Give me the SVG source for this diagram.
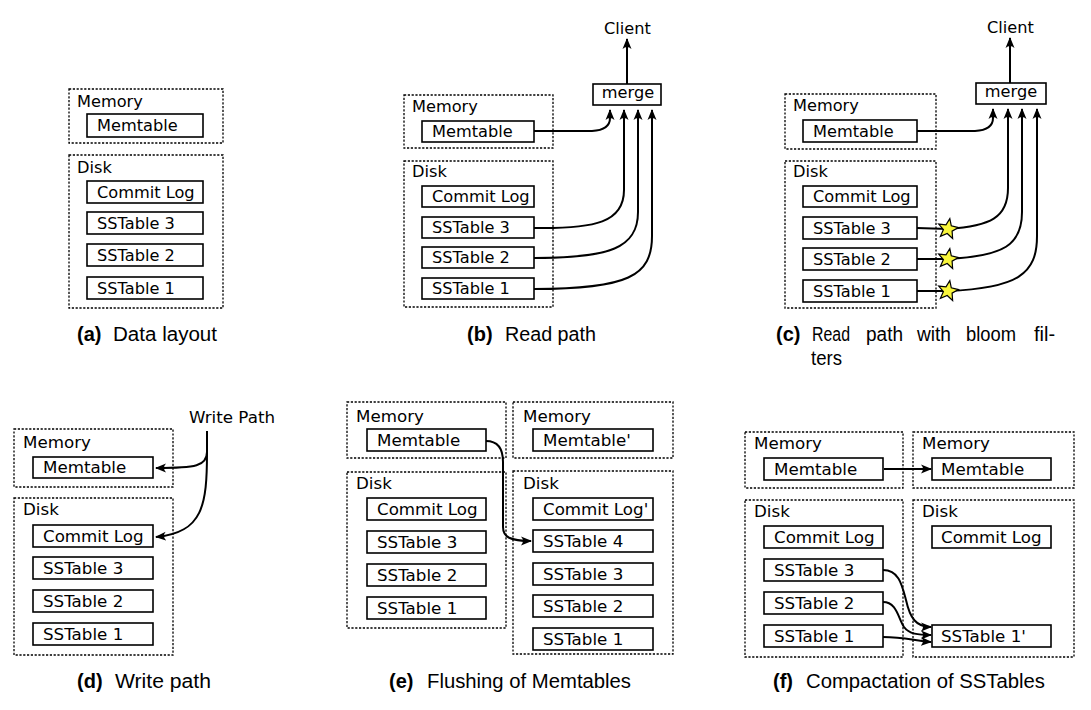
<svg xmlns="http://www.w3.org/2000/svg" width="1091" height="710" viewBox="0 0 1091 710">
<style>
.bg{fill:#ffffff}
.grp{fill:none;stroke:#000;stroke-width:1.3;stroke-dasharray:2.2 1.6}
.box{fill:#fff;stroke:#000;stroke-width:1.6}
.t{font-family:"DejaVu Sans",sans-serif;font-size:16.2px;fill:#000}
.tb{font-family:"DejaVu Sans",sans-serif;font-size:16.7px;fill:#000}
.cap{font-family:"Liberation Sans",Arial,sans-serif;font-size:20px;fill:#000}
.capb{font-family:"Liberation Sans",Arial,sans-serif;font-size:20px;font-weight:bold;fill:#000}
.ln{fill:none;stroke:#000;stroke-width:2;marker-end:url(#ah)}
.ln0{fill:none;stroke:#000;stroke-width:2}
.star{fill:#f8f53c;stroke:#000;stroke-width:1.2;stroke-linejoin:miter}
</style>
<defs>
<marker id="ah" markerWidth="13" markerHeight="10" refX="10" refY="5" orient="auto" markerUnits="userSpaceOnUse">
<path d="M0,0.5 L11,5 L0,9.5 Q4,5 0,0.5Z" fill="#000"/>
</marker>
<polygon id="starshape" points="0,-10.5 2.7,-3.7 10,-3.2 4.4,1.4 6.2,8.5 0,4.6 -6.2,8.5 -4.4,1.4 -10,-3.2 -2.7,-3.7" transform="rotate(10)"/>
</defs>
<rect class="bg" x="0" y="0" width="1091" height="710"/>

<!-- Panel a -->
<g id="a-memory"><rect class="grp" x="69" y="89" width="154" height="54"/><text class="t" x="77" y="107">Memory</text></g>
<g id="a-memtable"><rect class="box" x="87" y="114" width="116" height="23"/><text class="t" x="97" y="131">Memtable</text></g>
<g id="a-disk"><rect class="grp" x="69" y="155" width="154" height="153"/><text class="t" x="77" y="173">Disk</text></g>
<g id="a-commitlog"><rect class="box" x="87" y="181" width="116" height="22"/><text class="t" x="97" y="198">Commit Log</text></g>
<g id="a-sst3"><rect class="box" x="87" y="212" width="116" height="22"/><text class="t" x="97" y="229">SSTable 3</text></g>
<g id="a-sst2"><rect class="box" x="87" y="244" width="116" height="22"/><text class="t" x="97" y="261">SSTable 2</text></g>
<g id="a-sst1"><rect class="box" x="87" y="277" width="116" height="22"/><text class="t" x="97" y="294">SSTable 1</text></g>
<g id="cap-a"><text class="capb" x="77" y="341">(a)</text><text class="cap" x="113" y="341" textLength="104" lengthAdjust="spacingAndGlyphs">Data layout</text></g>

<!-- Panel b -->
<g id="b-memory"><rect class="grp" x="404" y="95" width="149" height="53"/><text class="t" x="412" y="112">Memory</text></g>
<g id="b-memtable"><rect class="box" x="422" y="121" width="112" height="21"/><text class="t" x="432" y="137">Memtable</text></g>
<g id="b-disk"><rect class="grp" x="404" y="161" width="149" height="146"/><text class="t" x="412" y="177">Disk</text></g>
<g id="b-commitlog"><rect class="box" x="422" y="186" width="112" height="21"/><text class="t" x="432" y="202">Commit Log</text></g>
<g id="b-sst3"><rect class="box" x="422" y="217" width="112" height="21"/><text class="t" x="432" y="233">SSTable 3</text></g>
<g id="b-sst2"><rect class="box" x="422" y="247" width="112" height="21"/><text class="t" x="432" y="263">SSTable 2</text></g>
<g id="b-sst1"><rect class="box" x="422" y="278" width="112" height="21"/><text class="t" x="432" y="294">SSTable 1</text></g>
<g id="b-merge"><rect class="box" x="593" y="84" width="68" height="21"/><text class="t" x="628" y="98" text-anchor="middle">merge</text></g>
<g id="b-client"><text class="t" x="604" y="34">Client</text></g>
<g id="cap-b"><text class="capb" x="467" y="341">(b)</text><text class="cap" x="505" y="341" textLength="91" lengthAdjust="spacingAndGlyphs">Read path</text></g>

<!-- Panel c -->
<g id="c-memory"><rect class="grp" x="785" y="94" width="151" height="55"/><text class="t" x="793" y="111">Memory</text></g>
<g id="c-memtable"><rect class="box" x="803" y="120" width="114" height="22"/><text class="t" x="813" y="137">Memtable</text></g>
<g id="c-disk"><rect class="grp" x="785" y="161" width="151" height="147"/><text class="t" x="793" y="177">Disk</text></g>
<g id="c-commitlog"><rect class="box" x="803" y="186" width="114" height="21"/><text class="t" x="813" y="202">Commit Log</text></g>
<g id="c-sst3"><rect class="box" x="803" y="217" width="114" height="22"/><text class="t" x="813" y="234">SSTable 3</text></g>
<g id="c-sst2"><rect class="box" x="803" y="248" width="114" height="22"/><text class="t" x="813" y="265">SSTable 2</text></g>
<g id="c-sst1"><rect class="box" x="803" y="280" width="114" height="22"/><text class="t" x="813" y="297">SSTable 1</text></g>
<g id="c-merge"><rect class="box" x="976" y="83" width="70" height="21"/><text class="t" x="1011" y="97" text-anchor="middle">merge</text></g>
<g id="c-client"><text class="t" x="987" y="33">Client</text></g>
<g id="cap-c"><text class="capb" x="776" y="341">(c)</text>
<text class="cap" x="812" y="341" textLength="38" lengthAdjust="spacingAndGlyphs">Read</text>
<text class="cap" x="866" y="341" textLength="37" lengthAdjust="spacingAndGlyphs">path</text>
<text class="cap" x="917" y="341" textLength="34" lengthAdjust="spacingAndGlyphs">with</text>
<text class="cap" x="966" y="341" textLength="50" lengthAdjust="spacingAndGlyphs">bloom</text>
<text class="cap" x="1034" y="341">fil-</text>
<text class="cap" x="811" y="365" textLength="31" lengthAdjust="spacingAndGlyphs">ters</text></g>

<!-- Panel d -->
<g id="d-memory"><rect class="grp" x="14" y="429" width="159" height="58"/><text class="tb" x="23" y="448">Memory</text></g>
<g id="d-memtable"><rect class="box" x="33" y="457" width="120" height="21"/><text class="tb" x="43" y="473">Memtable</text></g>
<g id="d-disk"><rect class="grp" x="14" y="498" width="159" height="157"/><text class="tb" x="23" y="515">Disk</text></g>
<g id="d-commitlog"><rect class="box" x="33" y="525" width="120" height="22"/><text class="tb" x="43" y="542">Commit Log</text></g>
<g id="d-sst3"><rect class="box" x="33" y="557" width="120" height="22"/><text class="tb" x="43" y="574">SSTable 3</text></g>
<g id="d-sst2"><rect class="box" x="33" y="590" width="120" height="22"/><text class="tb" x="43" y="607">SSTable 2</text></g>
<g id="d-sst1"><rect class="box" x="33" y="623" width="120" height="22"/><text class="tb" x="43" y="640">SSTable 1</text></g>
<g id="d-writepath"><text class="tb" x="189" y="423">Write Path</text></g>
<g id="cap-d"><text class="capb" x="77" y="688">(d)</text><text class="cap" x="115" y="688" textLength="96" lengthAdjust="spacingAndGlyphs">Write path</text></g>

<!-- Panel e -->
<g id="e-memory-l"><rect class="grp" x="347" y="402" width="159" height="56"/><text class="tb" x="356" y="422">Memory</text></g>
<g id="e-memtable"><rect class="box" x="367" y="429" width="119" height="22"/><text class="tb" x="377" y="446">Memtable</text></g>
<g id="e-disk-l"><rect class="grp" x="347" y="472" width="159" height="156"/><text class="tb" x="356" y="489">Disk</text></g>
<g id="e-commitlog"><rect class="box" x="367" y="498" width="119" height="22"/><text class="tb" x="377" y="515">Commit Log</text></g>
<g id="e-sst3"><rect class="box" x="367" y="531" width="119" height="22"/><text class="tb" x="377" y="548">SSTable 3</text></g>
<g id="e-sst2"><rect class="box" x="367" y="564" width="119" height="22"/><text class="tb" x="377" y="581">SSTable 2</text></g>
<g id="e-sst1"><rect class="box" x="367" y="597" width="119" height="22"/><text class="tb" x="377" y="614">SSTable 1</text></g>
<g id="e-memory-r"><rect class="grp" x="513" y="402" width="160" height="56"/><text class="tb" x="523" y="422">Memory</text></g>
<g id="e-memtable2"><rect class="box" x="533" y="429" width="120" height="22"/><text class="tb" x="543" y="446">Memtable'</text></g>
<g id="e-disk-r"><rect class="grp" x="513" y="471" width="160" height="183"/><text class="tb" x="523" y="489">Disk</text></g>
<g id="e-commitlog2"><rect class="box" x="533" y="498" width="120" height="22"/><text class="tb" x="543" y="515">Commit Log'</text></g>
<g id="e-sst4"><rect class="box" x="533" y="530" width="120" height="22"/><text class="tb" x="543" y="547">SSTable 4</text></g>
<g id="e-sst3r"><rect class="box" x="533" y="563" width="120" height="22"/><text class="tb" x="543" y="580">SSTable 3</text></g>
<g id="e-sst2r"><rect class="box" x="533" y="595" width="120" height="22"/><text class="tb" x="543" y="612">SSTable 2</text></g>
<g id="e-sst1r"><rect class="box" x="533" y="628" width="120" height="22"/><text class="tb" x="543" y="645">SSTable 1</text></g>
<g id="cap-e"><text class="capb" x="389" y="688">(e)</text><text class="cap" x="427" y="688" textLength="204" lengthAdjust="spacingAndGlyphs">Flushing of Memtables</text></g>

<!-- Panel f -->
<g id="f-memory-l"><rect class="grp" x="745" y="432" width="158" height="56"/><text class="tb" x="754" y="449">Memory</text></g>
<g id="f-memtable"><rect class="box" x="764" y="458" width="119" height="22"/><text class="tb" x="774" y="475">Memtable</text></g>
<g id="f-memory-r"><rect class="grp" x="913" y="432" width="161" height="56"/><text class="tb" x="922" y="449">Memory</text></g>
<g id="f-memtable2"><rect class="box" x="932" y="458" width="119" height="22"/><text class="tb" x="941" y="475">Memtable</text></g>
<g id="f-disk-l"><rect class="grp" x="745" y="500" width="158" height="157"/><text class="tb" x="754" y="517">Disk</text></g>
<g id="f-commitlog"><rect class="box" x="764" y="526" width="119" height="22"/><text class="tb" x="774" y="543">Commit Log</text></g>
<g id="f-sst3"><rect class="box" x="764" y="559" width="119" height="22"/><text class="tb" x="774" y="576">SSTable 3</text></g>
<g id="f-sst2"><rect class="box" x="764" y="592" width="119" height="22"/><text class="tb" x="774" y="609">SSTable 2</text></g>
<g id="f-sst1"><rect class="box" x="764" y="625" width="119" height="22"/><text class="tb" x="774" y="642">SSTable 1</text></g>
<g id="f-disk-r"><rect class="grp" x="913" y="500" width="161" height="157"/><text class="tb" x="922" y="517">Disk</text></g>
<g id="f-commitlog2"><rect class="box" x="932" y="526" width="119" height="22"/><text class="tb" x="941" y="543">Commit Log</text></g>
<g id="f-sst1p"><rect class="box" x="932" y="625" width="119" height="22"/><text class="tb" x="941" y="642">SSTable 1'</text></g>
<g id="cap-f"><text class="capb" x="773" y="688">(f)</text><text class="cap" x="806" y="688" textLength="239" lengthAdjust="spacingAndGlyphs">Compactation of SSTables</text></g>

<!-- Connectors -->
<g id="connectors">
<path class="ln" d="M627,84 L627,39"/>
<path class="ln" d="M534,131 L592,131 Q610,130 610,118 L610,110"/>
<path class="ln" d="M534,228 C596,229 624,222 624,190 L624,110"/>
<path class="ln" d="M534,258 C610,258 638,248 638,212 L638,110"/>
<path class="ln" d="M534,289 C628,289 652,276 652,236 L652,110"/>

<path class="ln" d="M1010,83 L1010,38"/>
<path class="ln" d="M917,131 L975,131 Q993,130 993,118 L993,109"/>
<path class="ln" d="M917,228 L948,229 C990,226 1008,218 1008,188 L1008,109"/>
<path class="ln" d="M917,259 L948,259 C1004,256 1022,245 1022,212 L1022,109"/>
<path class="ln" d="M917,291 L948,291 C1018,288 1037,274 1037,236 L1037,109"/>

<path class="ln0" d="M207,431 L207,452"/>
<path class="ln" d="M207,452 C207,466 196,468 156,468"/>
<path class="ln" d="M207,452 C207,505 203,533 156,537"/>

<path class="ln" d="M486,441 C499,441 503,450 503,462 L503,527 C503,537 510,541 531,541"/>

<path class="ln" d="M884,469 L931,469"/>
<path class="ln" d="M883,570 C899,570 902,585 906,600 C910,618 916,627 931,627"/>
<path class="ln" d="M883,602 C897,602 898,618 904,627 C909,634 918,635 931,635"/>
<path class="ln" d="M883,637 C905,637 915,641 931,642"/>

<use href="#starshape" class="star" x="948" y="229"/>
<use href="#starshape" class="star" x="948" y="259"/>
<use href="#starshape" class="star" x="948" y="291"/>
</g>
</svg>
